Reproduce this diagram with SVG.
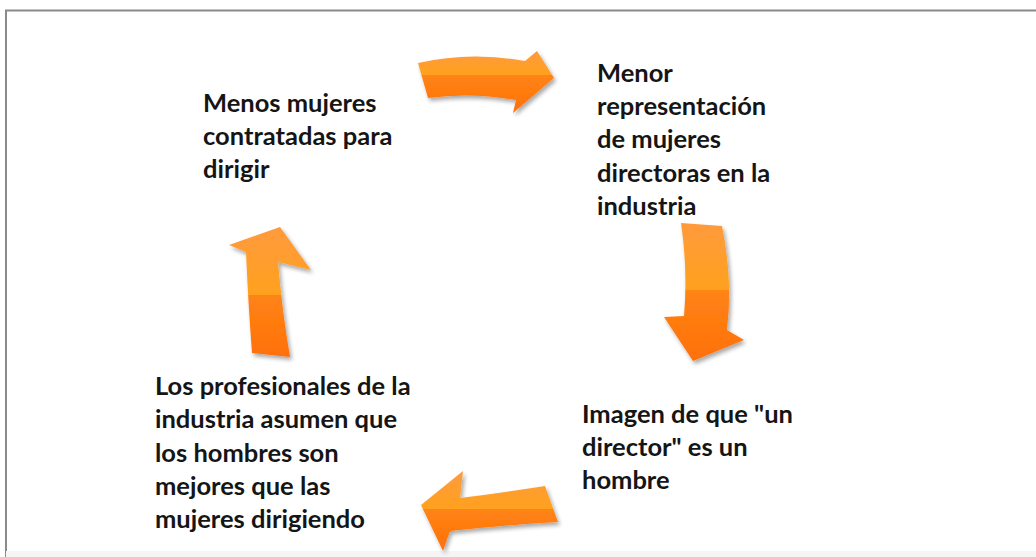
<svg xmlns="http://www.w3.org/2000/svg" width="1036" height="557" viewBox="0 0 1036 557">
<defs>
<style>
.t{font-family:"Lato","Open Sans","Liberation Sans",sans-serif;font-weight:700;font-size:25.5px;fill:#151515}
.arr{filter:url(#sh)}
</style>
<filter id="sh" x="-20%" y="-20%" width="150%" height="150%">
<feGaussianBlur in="SourceAlpha" stdDeviation="2"/>
<feOffset dx="2" dy="3" result="b"/>
<feComponentTransfer><feFuncA type="linear" slope="0.35"/></feComponentTransfer>
<feMerge><feMergeNode/><feMergeNode in="SourceGraphic"/></feMerge>
</filter>
<linearGradient id="gTop" gradientUnits="userSpaceOnUse" x1="0" y1="52" x2="0" y2="113">
<stop offset="0" stop-color="#FF9A3C"/><stop offset="0.38" stop-color="#FFA11E"/><stop offset="0.38" stop-color="#FF8414"/><stop offset="1" stop-color="#FF700C"/>
</linearGradient>
<linearGradient id="gRight" gradientUnits="userSpaceOnUse" x1="0" y1="223" x2="0" y2="360">
<stop offset="0" stop-color="#FF9A3C"/><stop offset="0.49" stop-color="#FFA11E"/><stop offset="0.49" stop-color="#FF8414"/><stop offset="1" stop-color="#FF700C"/>
</linearGradient>
<linearGradient id="gBot" gradientUnits="userSpaceOnUse" x1="0" y1="472" x2="0" y2="550">
<stop offset="0" stop-color="#FF9A3C"/><stop offset="0.48" stop-color="#FFA11E"/><stop offset="0.48" stop-color="#FF8414"/><stop offset="1" stop-color="#FF700C"/>
</linearGradient>
<linearGradient id="gLeft" gradientUnits="userSpaceOnUse" x1="0" y1="228" x2="0" y2="357">
<stop offset="0" stop-color="#FF9A3C"/><stop offset="0.52" stop-color="#FFA11E"/><stop offset="0.52" stop-color="#FF8414"/><stop offset="1" stop-color="#FF700C"/>
</linearGradient>
</defs>
<rect x="0" y="0" width="1036" height="557" fill="#fff"/>
<path d="M6,557 V10.5 H1036" fill="none" stroke="#8a8a8a" stroke-width="2"/>
<rect x="6" y="551" width="1030" height="6" fill="#f5f5f5"/>
<g id="connectors">
<path class="arr" fill="url(#gTop)" d="M418,63 Q470,51 525,61 L537,51 L554,78 L513,113 L516,100 Q470,92 428,98 Z"/>
<path class="arr" fill="url(#gRight)" d="M681,223 L722,226 Q733,280 727,330 L744,340 L693,361 L664,317 L684,316 Q688,270 681,223 Z"/>
<path class="arr" fill="url(#gBot)" d="M545,486 Q500,493 460,498 L463,471 L421,505 L443,551 L450,531 Q505,525 558,522 Z"/>
<path class="arr" fill="url(#gLeft)" d="M280,227 L311,270 L278,262 Q282,310 290,357 L252,353 Q248,300 246,252 L229,245 Z"/>
</g>
<g id="n1">
<text class="t" x="203" y="112">Menos mujeres</text>
<text class="t" x="203" y="145">contratadas para</text>
<text class="t" x="203" y="178">dirigir</text>
</g>
<g id="n2">
<text class="t" x="597" y="82">Menor</text>
<text class="t" x="597" y="115">representación</text>
<text class="t" x="597" y="148">de mujeres</text>
<text class="t" x="597" y="182">directoras en la</text>
<text class="t" x="597" y="215">industria</text>
</g>
<g id="n3">
<text class="t" x="582" y="423">Imagen de que "un</text>
<text class="t" x="582" y="456">director" es un</text>
<text class="t" x="582" y="489">hombre</text>
</g>
<g id="n4">
<text class="t" x="155" y="395">Los profesionales de la</text>
<text class="t" x="155" y="428">industria asumen que</text>
<text class="t" x="155" y="462">los hombres son</text>
<text class="t" x="155" y="495">mejores que las</text>
<text class="t" x="155" y="528">mujeres dirigiendo</text>
</g>
</svg>
